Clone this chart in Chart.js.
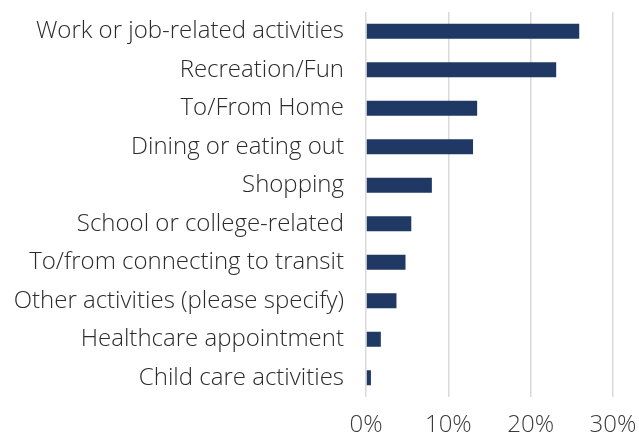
<!DOCTYPE html>
<html>
<head>
<meta charset="utf-8">
<script src="https://cdn.jsdelivr.net/npm/chart.js@4/dist/chart.umd.min.js"></script>
<style>
  html, body { margin: 0; padding: 0; background: #fff; }
  #wrap { width: 639px; height: 434px; }
</style>
</head>
<body>
<div id="wrap"><canvas id="tripChart"></canvas></div>
<script>
"use strict";

var categories = [
  'Work or job-related activities',
  'Recreation/Fun',
  'To/From Home',
  'Dining or eating out',
  'Shopping',
  'School or college-related',
  'To/from connecting to transit',
  'Other activities (please specify)',
  'Healthcare appointment',
  'Child care activities'
];
var shares = [25.9, 23.1, 13.5, 13.0, 8.0, 5.5, 4.8, 3.7, 1.8, 0.6];
var xTicks = [0, 10, 20, 30];

Chart.defaults.font.family = "'Open Sans', sans-serif";
Chart.defaults.font.weight = 300;

new Chart(document.getElementById('tripChart'), {
  type: 'bar',
  data: {
    labels: categories,
    datasets: [{
      data: shares,
      backgroundColor: '#1f3864',
      borderWidth: 0,
      barPercentage: 0.78,
      categoryPercentage: 0.5
    }]
  },
  options: {
    indexAxis: 'y',
    responsive: true,
    maintainAspectRatio: false,
    animation: false,
    layout: { padding: { top: 12, right: 0, left: 0, bottom: 0 } },
    plugins: { legend: { display: false }, tooltip: { enabled: false } },
    scales: {
      x: {
        min: 0,
        max: 30,
        afterBuildTicks: function(axis) { axis.ticks = xTicks.map(function(v) { return { value: v }; }); },
        afterFit: function(axis) { axis.height = 37; axis.paddingRight = 26; axis.paddingLeft = 0; },
        grid: { color: '#d9d9d9', lineWidth: 1.5, drawTicks: false },
        border: { display: false },
        ticks: {
          color: '#3a3a3a',
          padding: 14,
          font: { size: 24, weight: 300 },
          callback: function(v) { return v + '%'; }
        }
      },
      y: {
        grid: { display: false, drawTicks: false },
        border: { display: false },
        afterFit: function(axis) { axis.width = 366; axis.paddingTop = 0; axis.paddingBottom = 0; },
        ticks: {
          color: '#2b2b2b',
          padding: 22,
          font: { size: 24, weight: 300 }
        }
      }
    }
  }
});
</script>
</body>
</html>
